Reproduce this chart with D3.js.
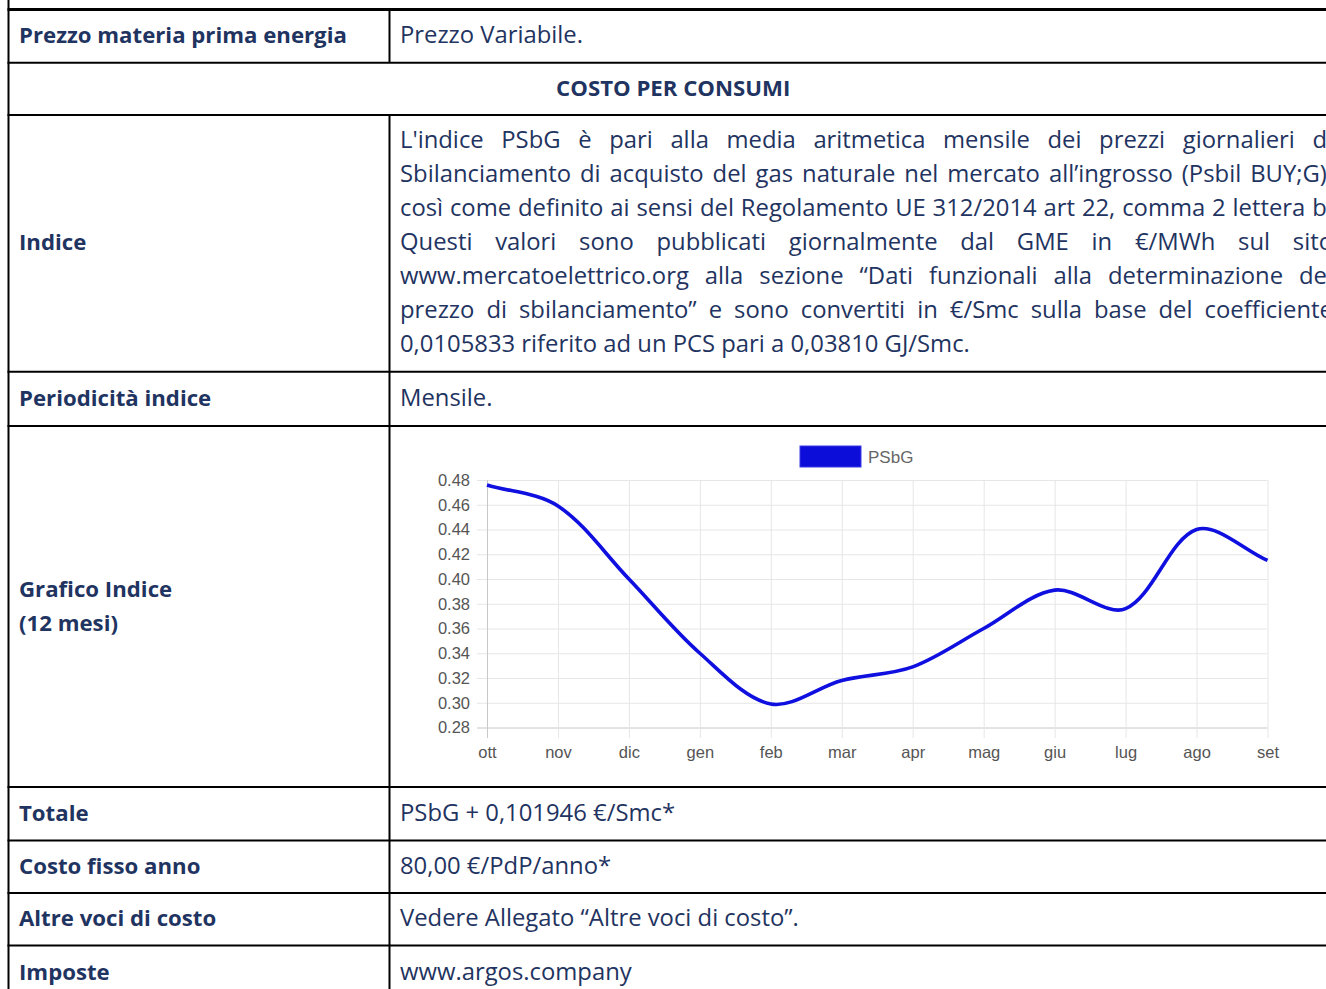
<!DOCTYPE html>
<html>
<head>
<meta charset="utf-8">
<script src="https://cdn.jsdelivr.net/npm/d3@7"></script>
<style>
  body { margin: 0; background: #fff; overflow: hidden; }
  .cell-text { font-family: "Open Sans", "Noto Sans", sans-serif; fill: #1f3461; }
  .bold { font-weight: 700; }
  .chart text { font-family: "Liberation Sans", Arial, sans-serif; }
</style>
</head>
<body>
<div id="page"></div>
<script>
const months = ["ott", "nov", "dic", "gen", "feb", "mar", "apr", "mag", "giu", "lug", "ago", "set"];
const psbg = [0.476, 0.459, 0.400, 0.340, 0.299, 0.318, 0.329, 0.360, 0.391, 0.376, 0.440, 0.415];
const yTicks = [0.28, 0.30, 0.32, 0.34, 0.36, 0.38, 0.40, 0.42, 0.44, 0.46, 0.48];
const seriesName = "PSbG";

const rowLabels = [
  ["Prezzo materia prima energia"],
  null,
  ["Indice"],
  ["Periodicità indice"],
  ["Grafico Indice", "(12 mesi)"],
  ["Totale"],
  ["Costo fisso anno"],
  ["Altre voci di costo"],
  ["Imposte"],
];
const rowValues = [
  "Prezzo Variabile.",
  null,
  null,
  "Mensile.",
  null,
  "PSbG + 0,101946 €/Smc*",
  "80,00 €/PdP/anno*",
  "Vedere Allegato “Altre voci di costo”.",
  "www.argos.company",
];
const sectionTitle = "COSTO PER CONSUMI";
const indiceLines = [
  "L'indice PSbG è pari alla media aritmetica mensile dei prezzi giornalieri di",
  "Sbilanciamento di acquisto del gas naturale nel mercato all’ingrosso (Psbil BUY;G),",
  "così come definito ai sensi del Regolamento UE 312/2014 art 22, comma 2 lettera b.",
  "Questi valori sono pubblicati giornalmente dal GME in €/MWh sul sito",
  "www.mercatoelettrico.org alla sezione “Dati funzionali alla determinazione del",
  "prezzo di sbilanciamento” e sono convertiti in €/Smc sulla base del coefficiente",
  "0,0105833 riferito ad un PCS pari a 0,03810 GJ/Smc.",
];

// layout
const width = 1326;
const height = 989;
const tableLeft = 8.5;
const tableRight = 1338;
const colSplit = 389.5;
const rowEdges = [9.5, 62.8, 115, 371.8, 426, 787, 840.5, 893, 945.5, 1000];
const padLeft = 10.5;
const lineHeight = 34;

const svg = d3.select("#page").append("svg")
  .attr("width", width)
  .attr("height", height);

// size the fonts so that sample strings get the widths they have in the scan
function fitSize(sample, bold, target) {
  const t = svg.append("text")
    .attr("class", bold ? "cell-text bold" : "cell-text")
    .style("font-size", "100px")
    .text(sample);
  const w = t.node().getComputedTextLength();
  t.remove();
  return (100 * target) / w;
}
const boldSize = fitSize("Prezzo materia prima energia", true, 328);
const regularSize = fitSize("0,0105833 riferito ad un PCS pari a 0,03810 GJ/Smc.", false, 570);

const textG = svg.append("g");

function cellText(str, bold) {
  return textG.append("text")
    .attr("class", bold ? "cell-text bold" : "cell-text")
    .style("font-size", `${bold ? boldSize : regularSize}px`)
    .text(str);
}

rowLabels.forEach((lines, i) => {
  const mid = (rowEdges[i] + rowEdges[i + 1]) / 2;
  if (lines === null) {
    cellText(sectionTitle, true)
      .attr("x", (tableLeft + tableRight) / 2)
      .attr("y", mid + 7)
      .attr("text-anchor", "middle");
    return;
  }
  lines.forEach((line, j) => {
    cellText(line, true)
      .attr("x", tableLeft + padLeft)
      .attr("y", mid + 7 + (j - (lines.length - 1) / 2) * lineHeight);
  });
  if (rowValues[i]) {
    cellText(rowValues[i], false)
      .attr("x", colSplit + padLeft)
      .attr("y", mid + 7);
  }
});

// justified paragraph in the "Indice" row
const paraLeft = colSplit + padLeft;
const paraRight = 1333;
const paraMid = (rowEdges[2] + rowEdges[3]) / 2;
indiceLines.forEach((line, j) => {
  const y = paraMid + 7 + (j - (indiceLines.length - 1) / 2) * lineHeight;
  if (j === indiceLines.length - 1) {
    cellText(line, false).attr("x", paraLeft).attr("y", y);
    return;
  }
  const words = line.split(" ");
  const nodes = words.map((w) => cellText(w, false).attr("y", y));
  const widths = nodes.map((n) => n.node().getComputedTextLength());
  const gap = (paraRight - paraLeft - d3.sum(widths)) / (words.length - 1);
  let x = paraLeft;
  nodes.forEach((n, k) => {
    n.attr("x", x);
    x += widths[k] + gap;
  });
});

// table borders
const borderG = svg.append("g").attr("stroke", "#000").attr("stroke-width", 2);
borderG.append("line")
  .attr("x1", tableLeft).attr("x2", tableLeft)
  .attr("y1", 0).attr("y2", height);
borderG.append("line")
  .attr("x1", colSplit).attr("x2", colSplit)
  .attr("y1", rowEdges[0]).attr("y2", rowEdges[1]);
borderG.append("line")
  .attr("x1", colSplit).attr("x2", colSplit)
  .attr("y1", rowEdges[2]).attr("y2", height);
borderG.selectAll(".row-line")
  .data(rowEdges.slice(0, -1))
  .join("line")
  .attr("class", "row-line")
  .attr("x1", tableLeft - 1).attr("x2", width)
  .attr("y1", (d) => d).attr("y2", (d) => d)
  .attr("stroke-width", (d, i) => (i === 0 ? 3 : 2));

// chart
const chart = svg.append("g").attr("class", "chart");
const x = d3.scalePoint().domain(months).range([487, 1267.5]);
const y = d3.scaleLinear().domain([0.28, 0.48]).range([727.5, 480]);
const gridColor = "#e6e6e6";
const labelColor = "#555";
const tickFont = 16.5;

const yAxis = chart.append("g")
  .attr("transform", "translate(477,0)")
  .call(
    d3.axisLeft(y)
      .tickValues(yTicks)
      .tickFormat(d3.format(".2f"))
      .tickSizeInner(-(x.range()[1] - 477))
      .tickSizeOuter(0)
      .tickPadding(7)
  );
yAxis.select(".domain").remove();
yAxis.selectAll(".tick line").attr("stroke", (d) => (d === 0.28 ? "#c8c8c8" : gridColor));
yAxis.selectAll(".tick text")
  .attr("font-size", tickFont)
  .attr("fill", labelColor);

const xAxis = chart.append("g")
  .attr("transform", "translate(0,738)")
  .call(
    d3.axisBottom(x)
      .tickSizeInner(-(738 - 480))
      .tickSizeOuter(0)
      .tickPadding(8)
  );
xAxis.select(".domain").remove();
xAxis.selectAll(".tick line").attr("stroke", (d) => (d === months[0] ? "#c8c8c8" : gridColor));
xAxis.selectAll(".tick text")
  .attr("font-size", tickFont)
  .attr("fill", labelColor);

// smooth spline through the points, control points weighted by segment length
function splinePath(points, tension) {
  const n = points.length;
  const ctrl = points.map((cur, i) => {
    const prev = points[Math.max(i - 1, 0)];
    const next = points[Math.min(i + 1, n - 1)];
    const d01 = Math.hypot(cur[0] - prev[0], cur[1] - prev[1]);
    const d12 = Math.hypot(next[0] - cur[0], next[1] - cur[1]);
    const sum = d01 + d12 || 1;
    const fa = (tension * d01) / sum;
    const fb = (tension * d12) / sum;
    return {
      before: [cur[0] - fa * (next[0] - prev[0]), cur[1] - fa * (next[1] - prev[1])],
      after: [cur[0] + fb * (next[0] - prev[0]), cur[1] + fb * (next[1] - prev[1])],
    };
  });
  const p = d3.path();
  p.moveTo(...points[0]);
  for (let i = 1; i < n; i++) {
    p.bezierCurveTo(...ctrl[i - 1].after, ...ctrl[i].before, ...points[i]);
  }
  return p.toString();
}

const pts = psbg.map((v, i) => [x(months[i]), y(v)]);

chart.append("path")
  .attr("fill", "none")
  .attr("stroke", "#0f0fe0")
  .attr("stroke-width", 3.6)
  .attr("stroke-linejoin", "round")
  .attr("d", splinePath(pts, 0.33));

// legend
const legend = chart.append("g").attr("transform", "translate(800,446)");
legend.append("rect")
  .attr("width", 61)
  .attr("height", 21)
  .attr("fill", "#0d0dd9")
  .attr("stroke", "#3a3ae6")
  .attr("stroke-width", 1);
legend.append("text")
  .attr("x", 68)
  .attr("y", 16.5)
  .attr("font-size", 17)
  .attr("fill", "#666")
  .text(seriesName);
</script>
</body>
</html>
